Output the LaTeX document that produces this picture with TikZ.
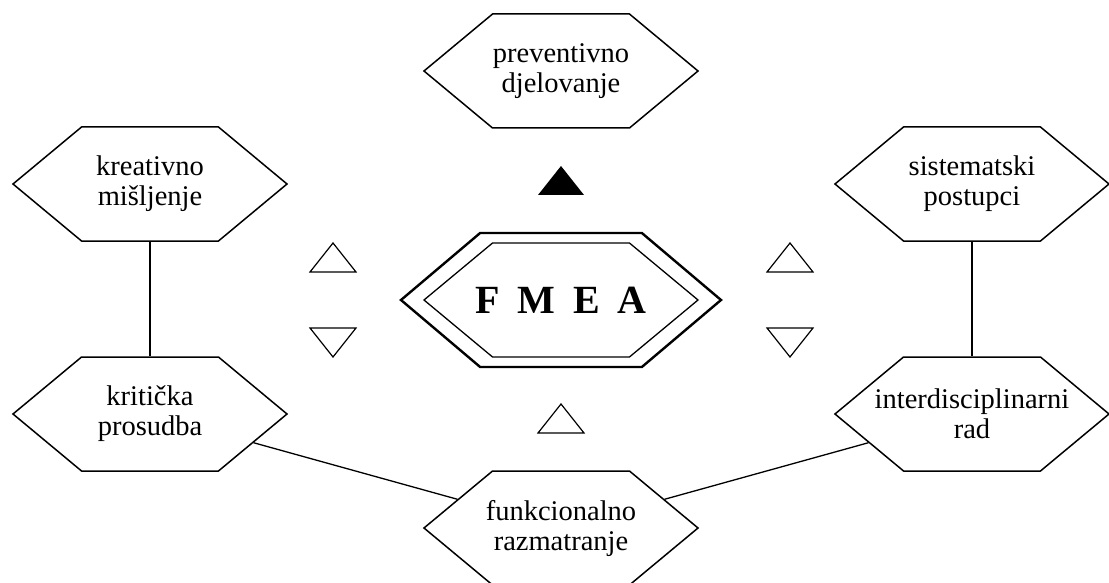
\documentclass[tikz,border=0pt]{standalone}
\usepackage{fontspec}
\setmainfont{Liberation Serif}
\usetikzlibrary{shapes.symbols}

\tikzset{
  hexbox/.style={signal, signal to=west and east, signal pointer angle=79.5,
    draw, fill=white, line width=1.5pt, minimum width=274pt, minimum height=114pt, inner sep=0pt},
  hextext/.style={align=center, inner sep=0pt, font=\fontsize{28.5}{30}\selectfont},
  opentri/.style={line width=1.2pt, line join=miter},
}

\begin{document}
\begin{tikzpicture}[x=1pt, y=-1pt]
\useasboundingbox (0,0) rectangle (1109,583);
% the six boxes around FMEA
\node[hexbox, label={[hextext]center:{preventivno\\djelovanje}}] (prev) at (561,71) {};
\node[hexbox, label={[hextext]center:{kreativno\\mišljenje}}] (kreat) at (150,184) {};
\node[hexbox, label={[hextext]center:{sistematski\\postupci}}] (sist) at (972,184) {};
\node[hexbox, label={[hextext]center:{kritička\\prosudba}}] (krit) at (150,414) {};
\node[hexbox, label={[hextext]center:{interdisciplinarni\\rad}}] (inter) at (972,414) {};
\node[hexbox, label={[hextext]center:{funkcionalno\\razmatranje}}] (funk) at (561,528) {};
% double box in the middle
\node[hexbox, line width=2.4pt, signal pointer angle=80.5, minimum width=320pt, minimum height=134pt] (fmeaout) at (561,300) {};
\node[hexbox, line width=1.3pt,
  label={[inner sep=0pt, font=\fontsize{40}{40}\selectfont\bfseries]center:F\hspace{0.45em}M\hspace{0.45em}E\hspace{0.45em}A}] (fmea) at (fmeaout) {};
\draw[line width=1.3pt] (kreat) -- (krit);
\draw[line width=1.3pt] (sist) -- (inter);
\draw[line width=1.3pt] (krit) -- (funk);
\draw[line width=1.3pt] (inter) -- (funk);
% triangles
\foreach \x in {333,790} {
  \draw[opentri] (\x-23,272) -- (\x,243) -- (\x+23,272) -- cycle;
  \draw[opentri] (\x-23,328) -- (\x,357) -- (\x+23,328) -- cycle;
}
\fill (538,195) -- (561,166) -- (584,195) -- cycle;
\draw[opentri] (538,433) -- (561,404) -- (584,433) -- cycle;
\end{tikzpicture}
\end{document}
